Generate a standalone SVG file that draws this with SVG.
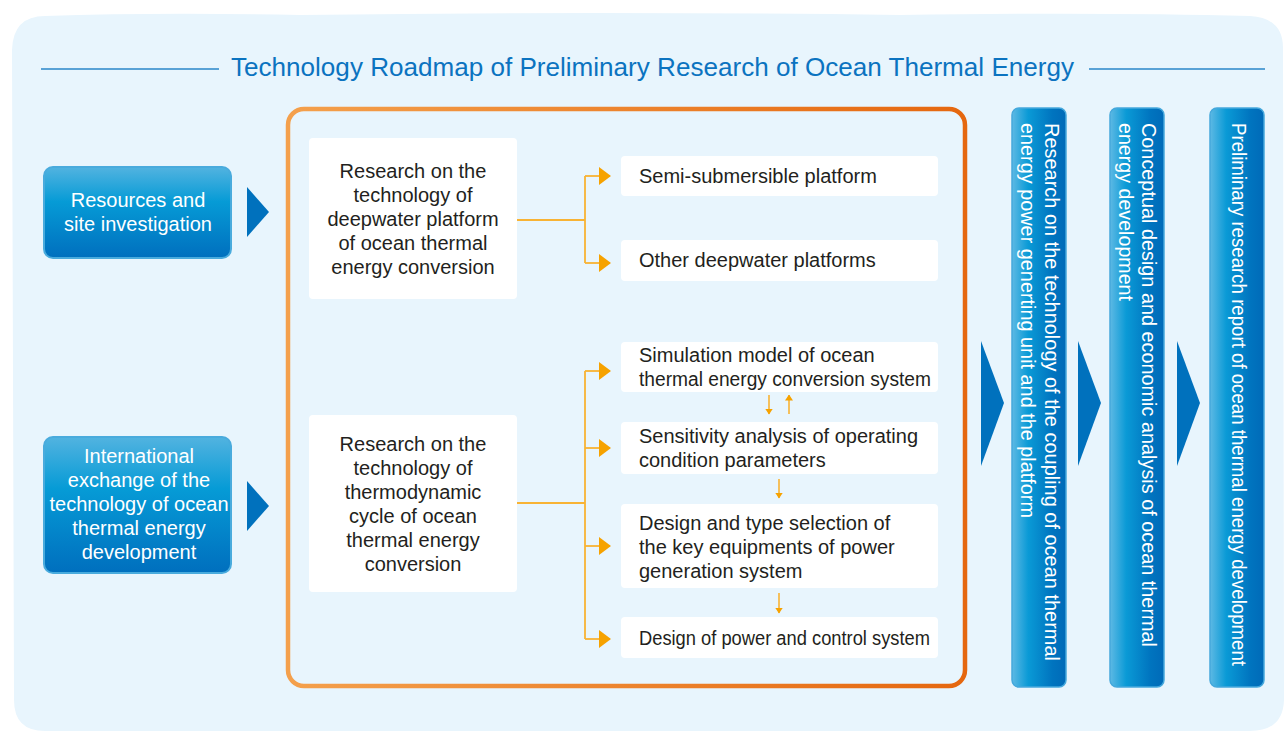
<svg xmlns="http://www.w3.org/2000/svg" width="1284" height="731" viewBox="0 0 1284 731">
<defs>
<linearGradient id="gBoxV" x1="0" y1="0" x2="0" y2="1">
<stop offset="0" stop-color="#52B3E0"/>
<stop offset="0.38" stop-color="#069BD6"/>
<stop offset="1" stop-color="#006FBE"/>
</linearGradient>
<linearGradient id="gColH" x1="0" y1="0" x2="1" y2="0">
<stop offset="0" stop-color="#5DB9E4"/>
<stop offset="0.3" stop-color="#0A9AD6"/>
<stop offset="0.75" stop-color="#0074BF"/>
<stop offset="1" stop-color="#006AB8"/>
</linearGradient>
<linearGradient id="gFrame" x1="0" y1="0" x2="1" y2="0">
<stop offset="0" stop-color="#F4A04C"/>
<stop offset="1" stop-color="#E5670F"/>
</linearGradient>
<marker id="ah" viewBox="0 0 12 18" refX="11" refY="9" markerWidth="12" markerHeight="18" markerUnits="userSpaceOnUse" orient="auto">
<path d="M0,0 L12,9 L0,18 Z" fill="#F6A200"/>
</marker>
<marker id="sah" viewBox="0 0 6 8" refX="5.5" refY="4" markerWidth="6" markerHeight="8" markerUnits="userSpaceOnUse" orient="auto">
<path d="M0,0 L6,4 L0,8 Z" fill="#F6A200"/>
</marker>
</defs>
<style>
.bg{fill:#E8F5FD}
.blue{fill:url(#gBoxV);stroke:#49ABDD;stroke-width:2}
.col{fill:url(#gColH);stroke:#45A8DC;stroke-width:1.5}
.tri{fill:#0071BD}
.wbox{fill:#FFFFFF}
.frame{fill:none;stroke:url(#gFrame);stroke-width:4.5}
.t{font-family:"Liberation Sans",Arial,sans-serif;font-size:20px;fill:#231F20}
.tc{text-anchor:middle}
.tw{font-family:"Liberation Sans",Arial,sans-serif;font-size:20px;fill:#FFFFFF}
.tv{font-family:"Liberation Sans",Arial,sans-serif;font-size:20px;fill:#FFFFFF}
.title{font-family:"Liberation Sans",Arial,sans-serif;font-size:25px;fill:#0B73C0}
.hl{stroke:#2A86C8;stroke-width:1.5}
.conn{fill:none;stroke:#F8B334;stroke-width:1.8}
.sconn{fill:none;stroke:#F8B334;stroke-width:1.6}
</style>
<rect x="0" y="0" width="1284" height="731" fill="#FFFFFF"/>
<path class="bg" d="M45,16 Q160,12 300,15 Q600,11 900,15 Q1100,12 1250,16 Q1283,18 1283,48 L1284,700 Q1283,731 1250,731 L45,731 Q14,731 14,700 L12,50 Q13,16 45,16 Z"/>

<g id="title">
<line class="hl" x1="41" y1="69" x2="219" y2="69"/>
<text class="title" x="231" y="76" textLength="843" lengthAdjust="spacingAndGlyphs">Technology Roadmap of Preliminary Research of Ocean Thermal Energy</text>
<line class="hl" x1="1089" y1="69" x2="1265" y2="69"/>
</g>

<g id="resources">
<rect class="blue" x="44" y="167" width="187" height="91" rx="9"/>
<text class="tw tc" x="138" y="207">Resources and</text>
<text class="tw tc" x="138" y="231">site investigation</text>
</g>
<g id="international">
<rect class="blue" x="44" y="437" width="187" height="136" rx="9"/>
<text class="tw tc" x="139" y="463">International</text>
<text class="tw tc" x="139" y="487">exchange of the</text>
<text class="tw tc" x="139" y="511">technology of ocean</text>
<text class="tw tc" x="139" y="535">thermal energy</text>
<text class="tw tc" x="139" y="559">development</text>
</g>

<g id="frame">
<rect class="frame" x="288" y="109" width="677" height="577" rx="16"/>
</g>

<g id="deepwater">
<rect class="wbox" x="309" y="138" width="208" height="161" rx="4"/>
<text class="t tc" x="413" y="178">Research on the</text>
<text class="t tc" x="413" y="202">technology of</text>
<text class="t tc" x="413" y="226">deepwater platform</text>
<text class="t tc" x="413" y="250">of ocean thermal</text>
<text class="t tc" x="413" y="274">energy conversion</text>
</g>
<g id="thermodynamic">
<rect class="wbox" x="309" y="415" width="208" height="177" rx="4"/>
<text class="t tc" x="413" y="451">Research on the</text>
<text class="t tc" x="413" y="475">technology of</text>
<text class="t tc" x="413" y="499">thermodynamic</text>
<text class="t tc" x="413" y="523">cycle of ocean</text>
<text class="t tc" x="413" y="547">thermal energy</text>
<text class="t tc" x="413" y="571">conversion</text>
</g>

<g id="semisub">
<rect class="wbox" x="621" y="156" width="317" height="40" rx="4"/>
<text class="t" x="639" y="183">Semi-submersible platform</text>
</g>
<g id="otherdeep">
<rect class="wbox" x="621" y="240" width="317" height="41" rx="4"/>
<text class="t" x="639" y="267">Other deepwater platforms</text>
</g>
<g id="simulation">
<rect class="wbox" x="621" y="342" width="317" height="50" rx="4"/>
<text class="t" x="639" y="362">Simulation model of ocean</text>
<text class="t" x="639" y="386" textLength="292" lengthAdjust="spacingAndGlyphs">thermal energy conversion system</text>
</g>
<g id="sensitivity">
<rect class="wbox" x="621" y="422" width="317" height="52" rx="4"/>
<text class="t" x="639" y="443">Sensitivity analysis of operating</text>
<text class="t" x="639" y="467">condition parameters</text>
</g>
<g id="designtype">
<rect class="wbox" x="621" y="504" width="317" height="84" rx="4"/>
<text class="t" x="639" y="530">Design and type selection of</text>
<text class="t" x="639" y="554">the key equipments of power</text>
<text class="t" x="639" y="578">generation system</text>
</g>
<g id="powercontrol">
<rect class="wbox" x="621" y="617" width="317" height="41" rx="4"/>
<text class="t" x="639" y="645" textLength="291" lengthAdjust="spacingAndGlyphs">Design of power and control system</text>
</g>

<g id="coupling">
<rect class="col" x="1012" y="108" width="54" height="579" rx="7"/>
<text class="tv" transform="translate(1045,123) rotate(90)" textLength="538" lengthAdjust="spacingAndGlyphs">Research on the technology of the coupling of ocean thermal</text>
<text class="tv" transform="translate(1021,123) rotate(90)" textLength="395" lengthAdjust="spacingAndGlyphs">energy power generting unit and the platform</text>
</g>
<g id="conceptual">
<rect class="col" x="1110" y="108" width="54" height="579" rx="7"/>
<text class="tv" transform="translate(1142,123) rotate(90)" textLength="524" lengthAdjust="spacingAndGlyphs">Conceptual design and economic analysis of ocean thermal</text>
<text class="tv" transform="translate(1119,123) rotate(90)" textLength="178" lengthAdjust="spacingAndGlyphs">energy development</text>
</g>
<g id="report">
<rect class="col" x="1210" y="108" width="54" height="579" rx="7"/>
<text class="tv" transform="translate(1232,123) rotate(90)" textLength="543" lengthAdjust="spacingAndGlyphs">Preliminary research report of ocean thermal energy development</text>
</g>

<g id="connectors">
<path class="tri" d="M247,187 L269,212 L247,237 Z"/>
<path class="tri" d="M247,481 L269,506 L247,531 Z"/>
<path class="tri" d="M981,341 L1004,403 L981,466 Z"/>
<path class="tri" d="M1078,341 L1101,403 L1078,466 Z"/>
<path class="tri" d="M1177,341 L1200,403 L1177,466 Z"/>

<path class="conn" d="M517,220 H585"/>
<path class="conn" d="M585,176 V263"/>
<path class="conn" d="M585,176 H610" marker-end="url(#ah)"/>
<path class="conn" d="M585,263 H610" marker-end="url(#ah)"/>

<path class="conn" d="M517,503 H585"/>
<path class="conn" d="M585,371 V639"/>
<path class="conn" d="M585,371 H610" marker-end="url(#ah)"/>
<path class="conn" d="M585,448 H610" marker-end="url(#ah)"/>
<path class="conn" d="M585,546 H610" marker-end="url(#ah)"/>
<path class="conn" d="M585,639 H610" marker-end="url(#ah)"/>

<path class="sconn" d="M769,395 V414" marker-end="url(#sah)"/>
<path class="sconn" d="M789,414 V395" marker-end="url(#sah)"/>
<path class="sconn" d="M779,479 V498" marker-end="url(#sah)"/>
<path class="sconn" d="M779,593 V613" marker-end="url(#sah)"/>
</g>
</svg>
